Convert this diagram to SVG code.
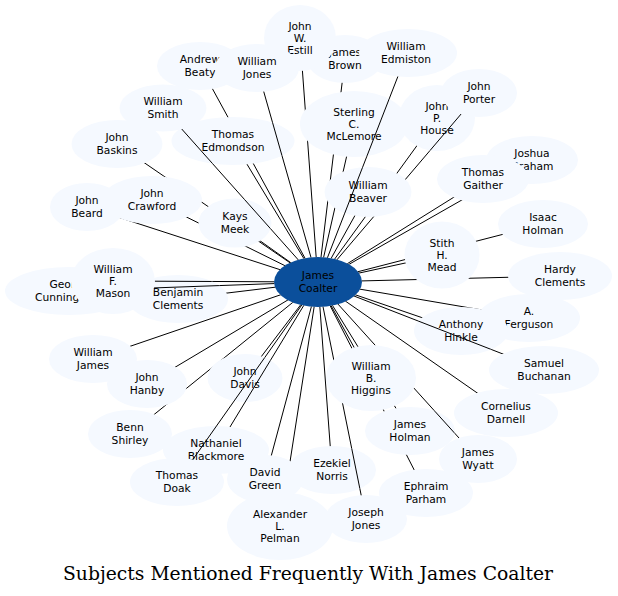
<svg xmlns="http://www.w3.org/2000/svg" width="618" height="596" viewBox="0 0 618 596">
<style>
.n ellipse{fill:#f5f9ff;stroke:none}
#coalter ellipse{fill:#0b4f9b}
.n text{font-family:"DejaVu Sans",Verdana,sans-serif;font-size:10.7px;fill:#000;text-anchor:middle}
.e line{stroke:#000;stroke-width:1;fill:none}
.title{font-family:"DejaVu Serif",serif;font-size:18px;fill:#000;text-anchor:middle}
</style>
<defs>
<g id="K">
<ellipse id="k-coalter" cx="318" cy="282" rx="44" ry="25"/>
<ellipse id="k-estill" cx="300" cy="38" rx="36" ry="33"/>
<ellipse id="k-brown" cx="345" cy="59" rx="38" ry="24"/>
<ellipse id="k-beaty" cx="200" cy="66" rx="43" ry="24"/>
<ellipse id="k-wjones" cx="257" cy="68" rx="42" ry="24"/>
<ellipse id="k-edmiston" cx="407" cy="53" rx="49" ry="24"/>
<ellipse id="k-wsmith" cx="163" cy="108" rx="43.5" ry="23.5"/>
<ellipse id="k-baskins" cx="117" cy="144" rx="45.5" ry="24"/>
<ellipse id="k-edmondson" cx="233" cy="141" rx="61.5" ry="24"/>
<ellipse id="k-mclemore" cx="354" cy="124" rx="54" ry="33"/>
<ellipse id="k-house" cx="437" cy="118" rx="38" ry="33"/>
<ellipse id="k-porter" cx="479" cy="93" rx="38" ry="24"/>
<ellipse id="k-graham" cx="532" cy="160" rx="46" ry="24"/>
<ellipse id="k-gaither" cx="483" cy="179" rx="46" ry="24"/>
<ellipse id="k-beaver" cx="368" cy="192" rx="43.5" ry="25"/>
<ellipse id="k-beard" cx="87" cy="207" rx="37" ry="24"/>
<ellipse id="k-crawford" cx="152" cy="200" rx="50" ry="24"/>
<ellipse id="k-meek" cx="235" cy="223" rx="36.5" ry="24.5"/>
<ellipse id="k-isaac" cx="543" cy="224" rx="45" ry="24"/>
<ellipse id="k-mead" cx="442" cy="255" rx="37.5" ry="33.5"/>
<ellipse id="k-cunningham" cx="69" cy="291" rx="64" ry="24"/>
<ellipse id="k-clements" cx="178" cy="299" rx="50" ry="24"/>
<ellipse id="k-mason" cx="113" cy="281" rx="42" ry="33"/>
<ellipse id="k-hardy" cx="560" cy="276" rx="52" ry="24"/>
<ellipse id="k-ferguson" cx="529" cy="318" rx="51" ry="24"/>
<ellipse id="k-hinkle" cx="461" cy="331" rx="47" ry="24"/>
<ellipse id="k-buchanan" cx="544" cy="370" rx="55" ry="24"/>
<ellipse id="k-wjames" cx="93" cy="359" rx="44" ry="24"/>
<ellipse id="k-hanby" cx="147" cy="384" rx="40" ry="24"/>
<ellipse id="k-davis" cx="245" cy="378" rx="37.5" ry="24"/>
<ellipse id="k-higgins" cx="371" cy="378" rx="45" ry="33"/>
<ellipse id="k-darnell" cx="506" cy="413" rx="52" ry="24"/>
<ellipse id="k-shirley" cx="130" cy="434" rx="42" ry="24"/>
<ellipse id="k-holman" cx="410" cy="431" rx="45" ry="24"/>
<ellipse id="k-blackmore" cx="216" cy="450" rx="53" ry="24"/>
<ellipse id="k-wyatt" cx="478" cy="459" rx="39" ry="24"/>
<ellipse id="k-doak" cx="177" cy="482" rx="47" ry="24"/>
<ellipse id="k-dgreen" cx="265" cy="479" rx="38" ry="24"/>
<ellipse id="k-norris" cx="332" cy="470" rx="44" ry="24"/>
<ellipse id="k-parham" cx="426" cy="493" rx="47" ry="24"/>
<ellipse id="k-pelman" cx="280" cy="526" rx="53" ry="34"/>
<ellipse id="k-jjones" cx="366" cy="519" rx="41" ry="24"/>
</g>
<mask id="mA" maskUnits="userSpaceOnUse" x="0" y="0" width="618" height="596"><rect width="618" height="596" fill="#fff"/><use href="#K" fill="#000"/></mask>
<mask id="mEdm" maskUnits="userSpaceOnUse" x="0" y="0" width="618" height="596"><rect width="618" height="596" fill="#fff"/><use href="#K" fill="#000"/><use href="#k-edmondson" fill="#fff"/><use href="#k-meek" fill="#fff"/><use href="#k-wsmith" fill="#000"/></mask>
<mask id="mMcB" maskUnits="userSpaceOnUse" x="0" y="0" width="618" height="596"><rect width="618" height="596" fill="#fff"/><use href="#K" fill="#000"/><use href="#k-mclemore" fill="#fff"/><use href="#k-beaver" fill="#fff"/></mask>
<mask id="mHouse" maskUnits="userSpaceOnUse" x="0" y="0" width="618" height="596"><rect width="618" height="596" fill="#fff"/><use href="#K" fill="#000"/><use href="#k-house" fill="#fff"/><use href="#k-porter" fill="#000"/></mask>
<mask id="mNorris" maskUnits="userSpaceOnUse" x="0" y="0" width="618" height="596"><rect width="618" height="596" fill="#fff"/><use href="#K" fill="#000"/><use href="#k-norris" fill="#fff"/></mask>
<mask id="mDoak" maskUnits="userSpaceOnUse" x="0" y="0" width="618" height="596"><rect width="618" height="596" fill="#fff"/><use href="#K" fill="#000"/><use href="#k-davis" fill="#fff"/><use href="#k-blackmore" fill="#fff"/><use href="#k-doak" fill="#000"/></mask>
<mask id="mDavis" maskUnits="userSpaceOnUse" x="0" y="0" width="618" height="596"><rect width="618" height="596" fill="#fff"/><use href="#K" fill="#000"/><use href="#k-davis" fill="#fff"/></mask>
<mask id="mHinkle" maskUnits="userSpaceOnUse" x="0" y="0" width="618" height="596"><rect width="618" height="596" fill="#fff"/><use href="#K" fill="#000"/><use href="#k-hinkle" fill="#fff"/><use href="#k-buchanan" fill="#000"/><use href="#k-ferguson" fill="#000"/></mask>
<mask id="mClem" maskUnits="userSpaceOnUse" x="0" y="0" width="618" height="596"><rect width="618" height="596" fill="#fff"/><use href="#K" fill="#000"/><use href="#k-clements" fill="#fff"/><use href="#k-mason" fill="#000"/></mask>
<mask id="mHolman" maskUnits="userSpaceOnUse" x="0" y="0" width="618" height="596"><rect width="618" height="596" fill="#fff"/><use href="#K" fill="#000"/><use href="#k-holman" fill="#fff"/><use href="#k-wyatt" fill="#000"/><use href="#k-higgins" fill="#000"/></mask>
</defs>
<rect width="618" height="596" fill="#fff"/>
<g id="nodes">
<g id="coalter" class="n"><ellipse cx="318" cy="282" rx="44" ry="25"/><text x="318" y="279.4">James</text><text x="318" y="291.6">Coalter</text></g>
<g id="cunningham" class="n"><ellipse cx="69" cy="291" rx="64" ry="24"/><text x="69" y="288.4">George</text><text x="69" y="300.6">Cunningham</text></g>
<g id="clements" class="n"><ellipse cx="178" cy="299" rx="50" ry="24"/><text x="178" y="296.4">Benjamin</text><text x="178" y="308.6">Clements</text></g>
<g id="mason" class="n"><ellipse cx="113" cy="281" rx="42" ry="33"/><text x="113" y="272.5">William</text><text x="113" y="284.7">F.</text><text x="113" y="296.9">Mason</text></g>
<g id="beard" class="n"><ellipse cx="87" cy="207" rx="37" ry="24"/><text x="87" y="204.4">John</text><text x="87" y="216.6">Beard</text></g>
<g id="crawford" class="n"><ellipse cx="152" cy="200" rx="50" ry="24"/><text x="152" y="197.4">John</text><text x="152" y="209.6">Crawford</text></g>
<g id="meek" class="n"><ellipse cx="235" cy="223" rx="36.5" ry="24.5"/><text x="235" y="220.4">Kays</text><text x="235" y="232.6">Meek</text></g>
<g id="baskins" class="n"><ellipse cx="117" cy="144" rx="45.5" ry="24"/><text x="117" y="141.4">John</text><text x="117" y="153.6">Baskins</text></g>
<g id="wsmith" class="n"><ellipse cx="163" cy="108" rx="43.5" ry="23.5"/><text x="163" y="105.4">William</text><text x="163" y="117.6">Smith</text></g>
<g id="edmondson" class="n"><ellipse cx="233" cy="141" rx="61.5" ry="24"/><text x="233" y="138.4">Thomas</text><text x="233" y="150.6">Edmondson</text></g>
<g id="beaty" class="n"><ellipse cx="200" cy="66" rx="43" ry="24"/><text x="200" y="63.4">Andrew</text><text x="200" y="75.6">Beaty</text></g>
<g id="brown" class="n"><ellipse cx="345" cy="59" rx="38" ry="24"/><text x="345" y="56.4">James</text><text x="345" y="68.6">Brown</text></g>
<g id="estill" class="n"><ellipse cx="300" cy="38" rx="36" ry="33"/><text x="300" y="29.5">John</text><text x="300" y="41.7">W.</text><text x="300" y="53.9">Estill</text></g>
<g id="wjones" class="n"><ellipse cx="257" cy="68" rx="42" ry="24"/><text x="257" y="65.4">William</text><text x="257" y="77.6">Jones</text></g>
<g id="edmiston" class="n"><ellipse cx="408" cy="53" rx="49" ry="24"/><text x="406" y="50.4">William</text><text x="406" y="62.6">Edmiston</text></g>
<g id="mclemore" class="n"><ellipse cx="354" cy="124" rx="54" ry="33"/><text x="354" y="115.5">Sterling</text><text x="354" y="127.7">C.</text><text x="354" y="139.9">McLemore</text></g>
<g id="house" class="n"><ellipse cx="437" cy="118" rx="38" ry="33"/><text x="437" y="109.5">John</text><text x="437" y="121.7">P.</text><text x="437" y="133.9">House</text></g>
<g id="porter" class="n"><ellipse cx="479" cy="93" rx="38" ry="24"/><text x="479" y="90.4">John</text><text x="479" y="102.6">Porter</text></g>
<g id="graham" class="n"><ellipse cx="532" cy="160" rx="46" ry="24"/><text x="532" y="157.4">Joshua</text><text x="532" y="169.6">Graham</text></g>
<g id="gaither" class="n"><ellipse cx="483" cy="179" rx="46" ry="24"/><text x="483" y="176.4">Thomas</text><text x="483" y="188.6">Gaither</text></g>
<g id="beaver" class="n"><ellipse cx="368" cy="192" rx="43.5" ry="25"/><text x="368" y="189.4">William</text><text x="368" y="201.6">Beaver</text></g>
<g id="isaac" class="n"><ellipse cx="543" cy="224" rx="45" ry="24"/><text x="543" y="221.4">Isaac</text><text x="543" y="233.6">Holman</text></g>
<g id="mead" class="n"><ellipse cx="442" cy="255" rx="37.5" ry="33.5"/><text x="442" y="246.5">Stith</text><text x="442" y="258.7">H.</text><text x="442" y="270.9">Mead</text></g>
<g id="hardy" class="n"><ellipse cx="560" cy="276" rx="52" ry="24"/><text x="560" y="273.4">Hardy</text><text x="560" y="285.6">Clements</text></g>
<g id="ferguson" class="n"><ellipse cx="529" cy="318" rx="51" ry="24"/><text x="529" y="315.4">A.</text><text x="529" y="327.6">Ferguson</text></g>
<g id="hinkle" class="n"><ellipse cx="461" cy="331" rx="47" ry="24"/><text x="461" y="328.4">Anthony</text><text x="461" y="340.6">Hinkle</text></g>
<g id="buchanan" class="n"><ellipse cx="544" cy="370" rx="55" ry="24"/><text x="544" y="367.4">Samuel</text><text x="544" y="379.6">Buchanan</text></g>
<g id="darnell" class="n"><ellipse cx="506" cy="413" rx="52" ry="24"/><text x="506" y="410.4">Cornelius</text><text x="506" y="422.6">Darnell</text></g>
<g id="higgins" class="n"><ellipse cx="371" cy="378" rx="45" ry="33"/><text x="371" y="369.5">William</text><text x="371" y="381.7">B.</text><text x="371" y="393.9">Higgins</text></g>
<g id="holman" class="n"><ellipse cx="410" cy="431" rx="45" ry="24"/><text x="410" y="428.4">James</text><text x="410" y="440.6">Holman</text></g>
<g id="wyatt" class="n"><ellipse cx="478" cy="459" rx="39" ry="24"/><text x="478" y="456.4">James</text><text x="478" y="468.6">Wyatt</text></g>
<g id="parham" class="n"><ellipse cx="426" cy="493" rx="47" ry="24"/><text x="426" y="490.4">Ephraim</text><text x="426" y="502.6">Parham</text></g>
<g id="jjones" class="n"><ellipse cx="366" cy="519" rx="41" ry="24"/><text x="366" y="516.4">Joseph</text><text x="366" y="528.6">Jones</text></g>
<g id="norris" class="n"><ellipse cx="332" cy="470" rx="44" ry="24"/><text x="332" y="467.4">Ezekiel</text><text x="332" y="479.6">Norris</text></g>
<g id="pelman" class="n"><ellipse cx="280" cy="526" rx="53" ry="34"/><text x="280" y="517.5">Alexander</text><text x="280" y="529.7">L.</text><text x="280" y="541.9">Pelman</text></g>
<g id="dgreen" class="n"><ellipse cx="265" cy="479" rx="38" ry="24"/><text x="265" y="476.4">David</text><text x="265" y="488.6">Green</text></g>
<g id="blackmore" class="n"><ellipse cx="216" cy="450" rx="53" ry="24"/><text x="216" y="447.4">Nathaniel</text><text x="216" y="459.6">Blackmore</text></g>
<g id="doak" class="n"><ellipse cx="177" cy="482" rx="47" ry="24"/><text x="177" y="479.4">Thomas</text><text x="177" y="491.6">Doak</text></g>
<g id="davis" class="n"><ellipse cx="245" cy="378" rx="37.5" ry="24"/><text x="245" y="375.4">John</text><text x="245" y="387.6">Davis</text></g>
<g id="shirley" class="n"><ellipse cx="130" cy="434" rx="42" ry="24"/><text x="130" y="431.4">Benn</text><text x="130" y="443.6">Shirley</text></g>
<g id="hanby" class="n"><ellipse cx="147" cy="384" rx="40" ry="24"/><text x="147" y="381.4">John</text><text x="147" y="393.6">Hanby</text></g>
<g id="wjames" class="n"><ellipse cx="93" cy="359" rx="44" ry="24"/><text x="93" y="356.4">William</text><text x="93" y="368.6">James</text></g>
</g>
<g id="connectors" class="e">
<g mask="url(#mA)">
<line x1="318" y1="282" x2="300" y2="38"/>
<line x1="318" y1="282" x2="345" y2="59"/>
<line x1="318" y1="282" x2="200" y2="66"/>
<line x1="318" y1="282" x2="117" y2="144"/>
<line x1="318" y1="282" x2="233" y2="141"/>
<line x1="318" y1="282" x2="354" y2="124"/>
<line x1="318" y1="282" x2="437" y2="118"/>
<line x1="318" y1="282" x2="532" y2="160"/>
<line x1="318" y1="282" x2="483" y2="179"/>
<line x1="318" y1="282" x2="368" y2="192"/>
<line x1="318" y1="282" x2="87" y2="207"/>
<line x1="318" y1="282" x2="152" y2="200"/>
<line x1="318" y1="282" x2="235" y2="223"/>
<line x1="318" y1="282" x2="543" y2="224"/>
<line x1="318" y1="282" x2="442" y2="255"/>
<line x1="318" y1="282" x2="178" y2="299"/>
<line x1="318" y1="282" x2="560" y2="276"/>
<line x1="318" y1="282" x2="529" y2="318"/>
<line x1="318" y1="282" x2="461" y2="331"/>
<line x1="318" y1="282" x2="506" y2="413"/>
<line x1="318" y1="282" x2="371" y2="378"/>
<line x1="318" y1="282" x2="410" y2="431"/>
<line x1="318" y1="282" x2="426" y2="493"/>
<line x1="318" y1="282" x2="332" y2="470"/>
<line x1="318" y1="282" x2="280" y2="526"/>
<line x1="318" y1="282" x2="265" y2="479"/>
<line x1="318" y1="282" x2="245" y2="378"/>
<line x1="318" y1="282" x2="130" y2="434"/>
<line x1="318" y1="282" x2="147" y2="384"/>
<line x1="318" y1="282" x2="93" y2="359"/>
</g>
<g mask="url(#mEdm)">
<line x1="318" y1="282" x2="163" y2="108"/>
<line x1="318" y1="282" x2="257" y2="68"/>
</g>
<g mask="url(#mMcB)"><line x1="318" y1="282" x2="407" y2="53"/></g>
<g mask="url(#mHouse)"><line x1="318" y1="282" x2="479" y2="93"/></g>
<g mask="url(#mNorris)"><line x1="318" y1="282" x2="366" y2="519"/></g>
<g mask="url(#mDoak)"><line x1="318" y1="282" x2="177" y2="482"/></g>
<g mask="url(#mDavis)"><line x1="318" y1="282" x2="216" y2="450"/></g>
<g mask="url(#mHinkle)"><line x1="318" y1="282" x2="544" y2="370"/></g>
<g mask="url(#mClem)">
<line x1="318" y1="282" x2="113" y2="281"/>
<line x1="318" y1="282" x2="69" y2="291"/>
</g>
<g mask="url(#mHolman)"><line x1="318" y1="282" x2="478" y2="459"/></g>
</g>
<text class="title" x="308" y="580" textLength="490" lengthAdjust="spacingAndGlyphs">Subjects Mentioned Frequently With James Coalter</text>
</svg>
